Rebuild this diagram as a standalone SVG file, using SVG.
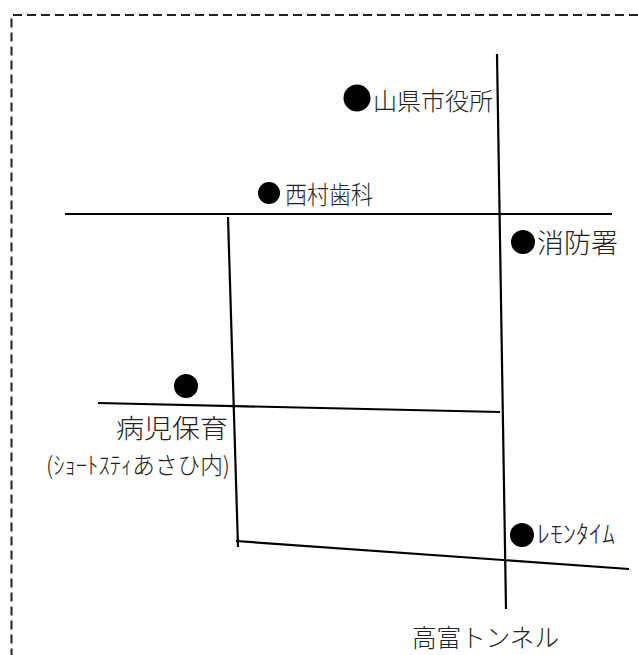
<svg xmlns="http://www.w3.org/2000/svg" width="638" height="655" viewBox="0 0 638 655">
<style>
text{font-family:"Noto Sans CJK JP","Noto Sans CJK SC",sans-serif;font-weight:200;fill:#222}
.r{stroke:#000;stroke-width:2.2;fill:none}
.d{fill:#000}
</style>
<rect width="638" height="655" fill="#fff"/>
<path id="border" d="M638 15H11.500V655" fill="none" stroke="#222" stroke-width="2" stroke-dasharray="9 5"/>
<g id="connectors">
<path class="r" d="M497 54L506 609"/>
<path class="r" d="M65 214H612"/>
<path class="r" d="M228 217L238 547"/>
<path class="r" d="M98 403L500 412"/>
<path class="r" d="M236 541L629 569"/>
</g>
<g id="yamagata"><circle class="d" cx="357" cy="98" r="13.500"/><text x="373" y="110" font-size="24" textLength="120" lengthAdjust="spacingAndGlyphs">山県市役所</text></g>
<g id="nishimura"><circle class="d" cx="269" cy="193" r="11"/><text x="285" y="204" font-size="25" textLength="88" lengthAdjust="spacingAndGlyphs">西村歯科</text></g>
<g id="shobo"><circle class="d" cx="523" cy="242" r="12"/><text x="537" y="253" font-size="27" textLength="81" lengthAdjust="spacingAndGlyphs">消防署</text></g>
<g id="byoji"><circle class="d" cx="186" cy="386" r="12"/><text x="116" y="438" font-size="26" textLength="112" lengthAdjust="spacingAndGlyphs">病児保育</text>
<text x="46" y="474" font-size="24" textLength="184" lengthAdjust="spacingAndGlyphs">(ｼｮｰﾄｽﾃｨあさひ内)</text></g>
<g id="lemon"><circle class="d" cx="522" cy="535" r="12"/><text x="537" y="543" font-size="25" textLength="78" lengthAdjust="spacingAndGlyphs">ﾚﾓﾝﾀｲﾑ</text></g>
<g id="tunnel"><text x="412" y="647" font-size="25" textLength="147" lengthAdjust="spacingAndGlyphs">高富トンネル</text></g>
</svg>
